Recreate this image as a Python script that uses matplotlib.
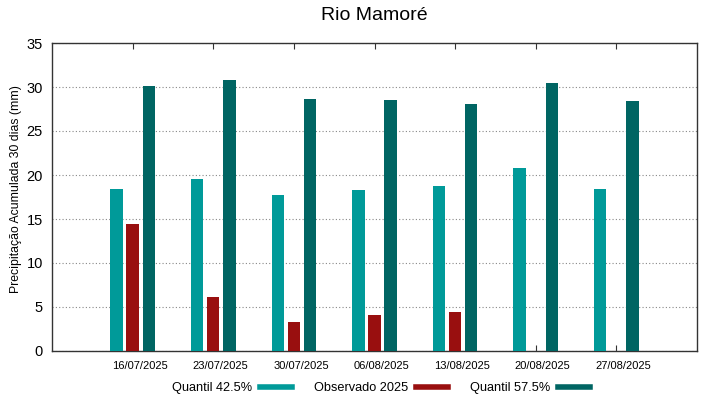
import matplotlib
matplotlib.use("Agg")
from matplotlib import pyplot as plt
from matplotlib.transforms import ScaledTranslation
import numpy as np

plt.rcParams['font.family'] = ['Liberation Sans', 'DejaVu Sans']

# Datas de referencia e valores (mm)
datas = ["16/07/2025", "23/07/2025", "30/07/2025", "06/08/2025",
         "13/08/2025", "20/08/2025", "27/08/2025"]
quantil_425 = [18.4, 19.5, 17.7, 18.3, 18.8, 20.8, 18.4]
observado = [14.4, 6.1, 3.3, 4.1, 4.4, np.nan, np.nan]
quantil_575 = [30.1, 30.8, 28.6, 28.5, 28.1, 30.5, 28.4]

cor_q1 = "#009a99"
cor_obs = "#990f0f"
cor_q2 = "#006563"

x = np.arange(1, len(datas) + 1)
largura = 0.155

fig = plt.figure(figsize=(7.19, 3.99), dpi=100)
ax = fig.add_axes([52 / 719, 1 - 351 / 399, 645 / 719, 308 / 399])

ax.bar(x - 0.2, quantil_425, largura, color=cor_q1, zorder=3)
ax.bar(x, observado, largura, color=cor_obs, zorder=3)
ax.bar(x + 0.2, quantil_575, largura, color=cor_q2, zorder=3)

ax.set_xlim(0, 8)
ax.set_ylim(0, 35)
ax.set_xticks(x)
ax.set_xticklabels(datas, fontsize=8)
ax.set_yticks(np.arange(0, 36, 5))
ax.tick_params(axis='y', labelsize=10.5, direction='in', length=0, pad=6.5)
ax.tick_params(axis='x', direction='in', length=4, top=True, pad=7, color='#333333')
# rotulos das datas ficam um pouco a direita dos ticks
desloc = ScaledTranslation(7 / 100, 0, fig.dpi_scale_trans)
for lab in ax.get_xticklabels():
    lab.set_transform(lab.get_transform() + desloc)
ax.grid(axis='y', linestyle=(0, (1, 2)), color='#888888', linewidth=0.8, zorder=0)
for s in ax.spines.values():
    s.set_color('#333333')
    s.set_linewidth(1.0)

fig.text(16 / 719, 1 - 189 / 399, "Precipitação Acumulada 30 dias (mm)",
         rotation=90, ha='center', va='center', fontsize=8.8)
fig.text(374 / 719, 1 - 15 / 399, "Rio Mamoré", ha='center', va='center', fontsize=14)

# Legenda no estilo gnuplot: texto antes da amostra
h1 = plt.Line2D([], [], color=cor_q1, linewidth=4)
h2 = plt.Line2D([], [], color=cor_obs, linewidth=4)
h3 = plt.Line2D([], [], color=cor_q2, linewidth=4)
fig.legend([h1, h2, h3], ["Quantil 42.5%", "Observado 2025", "Quantil 57.5%"],
           loc='center', bbox_to_anchor=(381 / 719, 1 - 388 / 399), ncol=3,
           frameon=False, markerfirst=False, fontsize=9.2, handlelength=2.5,
           columnspacing=1.7, handletextpad=0.65, borderpad=0)

fig.savefig("out.png", dpi=100)
